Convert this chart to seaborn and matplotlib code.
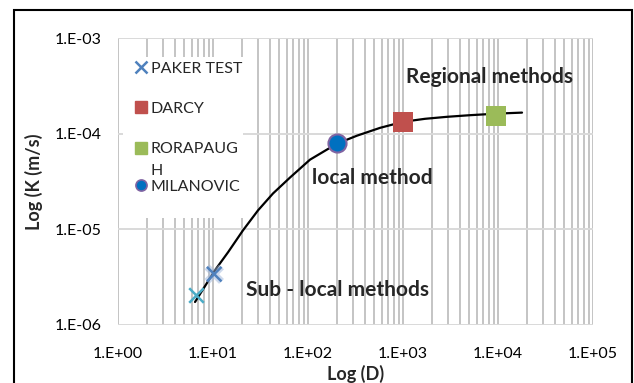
import numpy as np
import pandas as pd
import matplotlib
matplotlib.use("Agg")
import matplotlib.pyplot as plt
import matplotlib.ticker as mticker
import matplotlib.patheffects as pe
from matplotlib.lines import Line2D
from matplotlib.patches import Rectangle
import seaborn as sns

# trend curve
curve_d = [6.47, 10.5, 14.4, 20.7, 29.8, 42.8, 64.7, 105, 202, 328, 573, 1000, 1706, 2900, 5070, 9750, 17900]
curve_k = [1.74e-6, 3.74e-6, 5.76e-6, 9.77e-6, 1.58e-5, 2.37e-5, 3.48e-5, 5.35e-5, 7.87e-5,
           9.53e-5, 1.15e-4, 1.33e-4, 1.43e-4, 1.50e-4, 1.56e-4, 1.62e-4, 1.66e-4]

# measured points
paker_d = [10.3]
paker_k = [3.4e-6]
paker2_d = [6.6]
paker2_k = [2.06e-6]
darcy_d = [1000]
darcy_k = [1.33e-4]
rora_d = [9600]
rora_k = [1.54e-4]
milan_d = [202]
milan_k = [7.9e-5]

sns.set_theme(style="white")
plt.rcParams['font.family'] = ['Lato', 'DejaVu Sans']

fig = plt.figure(figsize=(6.34, 3.83), dpi=100)
W, H = 634, 383
ax = fig.add_axes([118 / W, 1 - 325 / H, (593 - 118) / W, (325 - 38) / H])
ax.set_xscale("log")
ax.set_yscale("log")
ax.set_xlim(1, 1e5)
ax.set_ylim(1e-6, 1e-3)

# Excel-like grid
ax.xaxis.set_major_locator(mticker.LogLocator(base=10, numticks=10))
ax.xaxis.set_minor_locator(mticker.LogLocator(base=10, subs=np.arange(2, 10), numticks=20))
ax.yaxis.set_major_locator(mticker.LogLocator(base=10, numticks=10))
ax.yaxis.set_minor_locator(mticker.NullLocator())
ax.set_axisbelow(True)
ax.grid(True, axis="x", which="both", color="#C4C4C4", linewidth=1.4)
ax.grid(True, axis="y", which="major", color="#D9D9D9", linewidth=1.4)
for s in ax.spines.values():
    s.set_visible(False)

fmt = mticker.FuncFormatter(lambda v, p: "1.E{:+03d}".format(int(round(np.log10(v)))))
ax.xaxis.set_major_formatter(fmt)
ax.yaxis.set_major_formatter(fmt)
ax.tick_params(axis="both", which="both", length=0, labelsize=11.5, colors="black")
ax.tick_params(axis="x", pad=16)
ax.tick_params(axis="y", pad=12)

# white block behind the legend
ax.add_patch(Rectangle((0.011, (325 - 218) / 287), (243 - 123) / 475, (218 - 57) / 287,
                       transform=ax.transAxes, facecolor="white", edgecolor="none", zorder=1))

curve = pd.DataFrame({"D": curve_d, "K": curve_k})
sns.lineplot(data=curve, x="D", y="K", sort=False, color="black", linewidth=1.6, ax=ax, zorder=3)

sns.scatterplot(x=paker2_d, y=paker2_k, marker="x", s=110, color="#4BACC6", linewidth=1.8, ax=ax, zorder=4)
sc = sns.scatterplot(x=paker_d, y=paker_k, marker="x", s=110, color="#4F81BD", linewidth=1.8, ax=ax, zorder=4)
sc.collections[-1].set_path_effects([pe.Stroke(linewidth=5, foreground="#9DB5DA", alpha=0.5), pe.Normal()])
sns.scatterplot(x=darcy_d, y=darcy_k, marker="s", s=200, color="#C0504D", linewidth=0, ax=ax, zorder=4)
sns.scatterplot(x=rora_d, y=rora_k, marker="s", s=200, color="#9BBB59", linewidth=0, ax=ax, zorder=4)
sns.scatterplot(x=milan_d, y=milan_k, marker="o", s=170, color="#0070C0", edgecolor="#8064A2",
                linewidth=1.5, ax=ax, zorder=4)

ax.set_xlabel("Log (D)", fontsize=13, fontweight="bold", labelpad=3)
ax.set_ylabel("Log (K (m/s)", fontsize=13, fontweight="bold", labelpad=8)


def px_text(x, y, s):
    fig.text(x / W, 1 - y / H, s, ha="center", va="center", fontsize=15, fontweight="bold")


px_text(490, 77, "Regional methods")
px_text(372, 178, "local method")
px_text(337, 290, "Sub - local methods")

# legend (the wrapped "RORAPAUG / H" label squeezes the last row, as in the original)
h_paker = Line2D([], [], marker="x", linestyle="none", color="#4F81BD", markersize=8, markeredgewidth=1.8)
h_darcy = Line2D([], [], marker="s", linestyle="none", color="#C0504D", markersize=8)
h_rora = Line2D([], [], marker="s", linestyle="none", color="#9BBB59", markersize=8)
h_blank = Line2D([], [], linestyle="none")
h_milan = Line2D([], [], marker="o", linestyle="none", color="#0070C0", markeredgecolor="#8064A2",
                 markeredgewidth=1.2, markersize=8)

leg_kw = dict(loc="upper left", frameon=False, fontsize=11.5, handletextpad=0.1,
              handlelength=1.0, borderaxespad=0)
leg1 = ax.legend([h_paker, h_darcy, h_rora], ["PAKER TEST", "DARCY", "RORAPAUG"],
                 bbox_to_anchor=(0.018, 1 - (55 - 38) / 287), labelspacing=1.64, **leg_kw)
ax.add_artist(leg1)
ax.legend([h_blank, h_milan], ["H", "MILANOVIC"],
          bbox_to_anchor=(0.018, 1 - (157 - 38) / 287), labelspacing=0.12, **leg_kw)

# outer frame
fig.patches.append(Rectangle((14 / W, -0.1), (632 - 14) / W, 1.1 - 10 / H, transform=fig.transFigure,
                             fill=False, edgecolor="black", linewidth=1.5))

fig.savefig("out.png", dpi=100)
